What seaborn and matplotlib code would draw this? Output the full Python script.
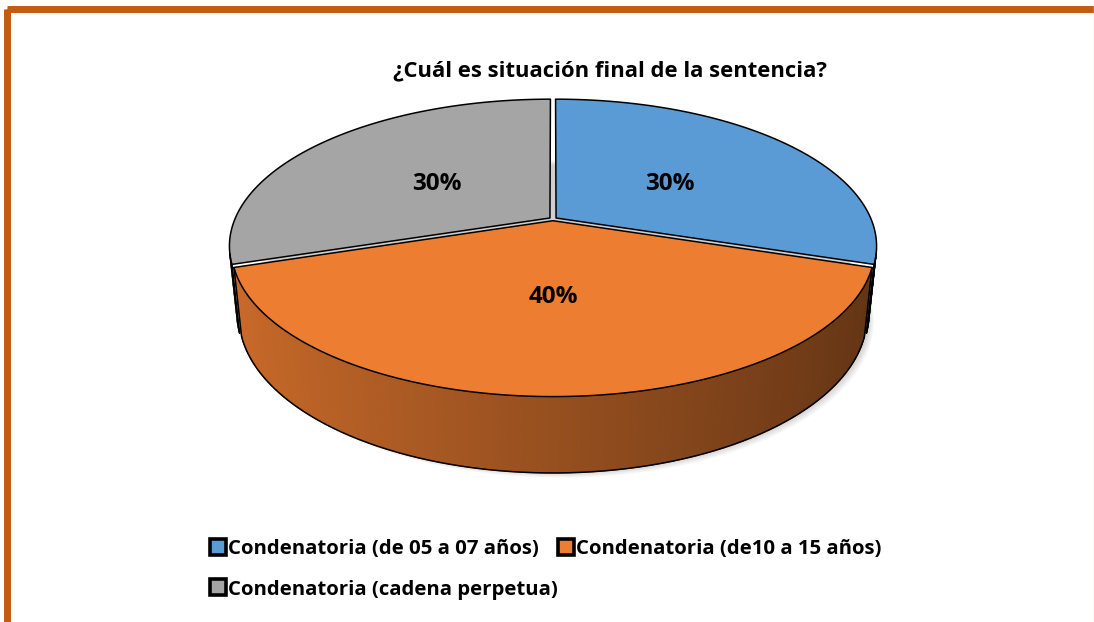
import numpy as np
import matplotlib
matplotlib.use("Agg")
import matplotlib.pyplot as plt
from matplotlib.lines import Line2D
from matplotlib.patches import Rectangle
import seaborn as sns

# data
categories = ["Condenatoria (de 05 a 07 años)",
              "Condenatoria (de10 a 15 años)",
              "Condenatoria (cadena perpetua)"]
values = [30, 40, 30]
pct_labels = ["30%", "40%", "30%"]
colors = ["#5B9BD5", "#ED7D31", "#A5A5A5"]
title = "¿Cuál es situación final de la sentencia?"

sns.set_theme(style="white")
plt.rcParams["font.family"] = ["Open Sans", "DejaVu Sans"]
palette = sns.color_palette(colors)

W, H = 1094, 622
fig = plt.figure(figsize=(W / 100, H / 100), dpi=100)
ax = fig.add_axes([0, 0, 1, 1])
ax.set_xlim(0, W)
ax.set_ylim(H, 0)
ax.axis("off")

# 3d pie geometry (screen pixels), simple perspective projection
cx, cy, R = 553, 219, 315
sin_t, cos_t = 0.45, 0.893
dist = 4.7
depth = 0.24
explode = 0.012


def project(X, Y, Z):
    v = Y * sin_t + Z * cos_t
    d = Y * cos_t - Z * sin_t
    s = dist / (dist + d)
    return cx + R * X * s, cy - R * v * s


fracs = np.array(values, dtype=float) / sum(values)
starts = 90 - 360 * np.concatenate([[0], np.cumsum(fracs)[:-1]])
ends = starts - 360 * fracs
mids = (starts + ends) / 2

# soft shadow under the disc
th = np.radians(np.linspace(0, 360, 200))
sx, sy = project(np.cos(th), np.sin(th), -depth)
for k in range(8):
    ax.fill(sx + 2 + k * 0.8, sy + 2 + k * 0.8, color="black", alpha=0.025, lw=0)

# outer walls, only the part facing the camera
cam_y = -dist * cos_t
for i in range(len(values)):
    ox = explode * np.cos(np.radians(mids[i]))
    oy = explode * np.sin(np.radians(mids[i]))
    ang = np.linspace(ends[i], starts[i], 400)
    rad = np.radians(ang)
    facing = (ox + np.cos(rad)) * np.cos(rad) + (oy + np.sin(rad) - cam_y) * np.sin(rad) < 0
    if facing.sum() < 2:
        continue
    ang = ang[facing]
    rad = rad[facing]
    tx, ty = project(ox + np.cos(rad), oy + np.sin(rad), 0)
    bx, by = project(ox + np.cos(rad), oy + np.sin(rad), -depth)
    base = np.array(palette[i])
    for j in range(len(ang) - 1):
        f = 0.59 - 0.21 * np.cos(np.radians((ang[j] + ang[j + 1]) / 2))
        c = np.clip(base * f / 0.93, 0, 1)
        ax.fill([tx[j], tx[j + 1], bx[j + 1], bx[j]],
                [ty[j], ty[j + 1], by[j + 1], by[j]],
                color=c, lw=0.8, ec=c)
    ax.plot(bx, by, color="black", lw=1.1)
    ax.plot([tx[0], bx[0]], [ty[0], by[0]], color="black", lw=1.1)
    ax.plot([tx[-1], bx[-1]], [ty[-1], by[-1]], color="black", lw=1.1)

# top faces
for i in range(len(values)):
    ox = explode * np.cos(np.radians(mids[i]))
    oy = explode * np.sin(np.radians(mids[i]))
    rad = np.radians(np.linspace(starts[i], ends[i], 200))
    X = np.concatenate([[ox], ox + np.cos(rad), [ox]])
    Y = np.concatenate([[oy], oy + np.sin(rad), [oy]])
    px, py = project(X, Y, 0 * X)
    ax.fill(px, py, color=palette[i], ec="black", lw=1.1, joinstyle="round")

    lx, ly = project(ox + 0.47 * np.cos(np.radians(mids[i])),
                     oy + 0.47 * np.sin(np.radians(mids[i])), 0)
    ax.text(lx, ly + 3, pct_labels[i], ha="center", va="center",
            fontsize=17.5, fontweight="bold", color="black")

ax.text(610, 71, title, ha="center", va="center", fontsize=15.8,
        fontweight="bold", color="black")

# legend (rows: item 1 | item 2, then item 3)
handles = [Line2D([], [], marker="s", ls="", markerfacecolor=palette[i],
                  markeredgecolor="black", markeredgewidth=2.6, markersize=11)
           for i in range(len(values))]
leg_order = [0, 2, 1]
fig.legend([handles[i] for i in leg_order], [categories[i] for i in leg_order],
           loc="upper left", bbox_to_anchor=(203 / W, 1 - 531 / H), ncol=2,
           frameon=False, prop=dict(weight="bold", size=14.7),
           labelcolor="black",
           handlelength=0.7, handletextpad=0.12, columnspacing=0.05,
           labelspacing=1.0, borderaxespad=0)

# orange frame around the chart area
ax.add_patch(Rectangle((6.5, 8.5), 3000, 3000, fill=False, lw=5.0,
                       ec="#C55A11"))
ax.axvline(1093.5, color="#f2dccf", lw=1)

fig.savefig("out.png", dpi=100)
